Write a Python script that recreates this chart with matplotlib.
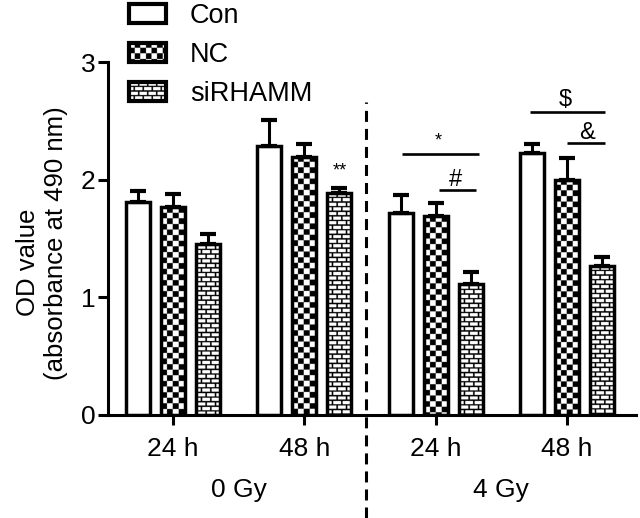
import numpy as np
import matplotlib
matplotlib.use('Agg')
import matplotlib.pyplot as plt
from matplotlib.patches import Rectangle
from matplotlib.transforms import blended_transform_factory

plt.rcParams['font.family'] = ['Liberation Sans', 'DejaVu Sans']

# ---------------- data ----------------
time_labels = ['24 h', '48 h', '24 h', '48 h']
dose_labels = ['0 Gy', '4 Gy']
series_names = ['Con', 'NC', 'siRHAMM']
con_mean = [1.81, 2.29, 1.72, 2.23]
con_err = [0.09, 0.22, 0.15, 0.075]
nc_mean = [1.765, 2.195, 1.69, 2.00]
nc_err = [0.11, 0.105, 0.11, 0.18]
si_mean = [1.45, 1.89, 1.11, 1.27]
si_err = [0.09, 0.035, 0.105, 0.07]

W, H = 640, 518
fig = plt.figure(figsize=(W / 100, H / 100), dpi=100)
ax_l, ax_r, ax_b, ax_t = 108, 636, 415, 62
ax = fig.add_axes([ax_l / W, 1 - ax_b / H, (ax_r - ax_l) / W, (ax_b - ax_t) / H])
XLIM = (-0.495, 3.525)
YLIM = (0, 3)
ax.set_xlim(*XLIM)
ax.set_ylim(*YLIM)
px_per_x = (ax_r - ax_l) / (XLIM[1] - XLIM[0])
px_per_y = (ax_b - ax_t) / (YLIM[1] - YLIM[0])


def pattern(kind, wpx, hpx, ss=4):
    nr, nc = max(int(round(hpx * ss)), 1), max(int(round(wpx * ss)), 1)
    r = np.arange(nr)[:, None] / ss
    c = np.arange(nc)[None, :] / ss
    if kind == 'checker':
        cell = 5.6
        arr = ((np.floor(r / cell) + np.floor(c / cell)) % 2).astype(float)
    elif kind == 'brick':
        rh, bw, t = 4.6, 9.0, 1.4
        row = np.floor(r / rh)
        hline = (r % rh) < t
        shift = (row % 2) * bw / 2
        vline = ((c + shift) % bw) < t
        arr = (hline | vline).astype(float)
    else:
        arr = np.zeros((nr, nc))
    return arr


LW = 2.2
bw = 0.183
offsets = [-0.267, 0.0, 0.267]
kinds = ['plain', 'checker', 'brick']
means = [con_mean, nc_mean, si_mean]
errs = [con_err, nc_err, si_err]
xs = np.arange(len(time_labels))

for k in range(3):
    xpos = xs + offsets[k]
    bars = ax.bar(xpos, means[k], width=bw, color='white', edgecolor='none', zorder=1)
    if kinds[k] != 'plain':
        for b in bars:
            x0, h = b.get_x(), b.get_height()
            arr = pattern(kinds[k], bw * px_per_x, h * px_per_y)
            im = ax.imshow(arr, extent=(x0, x0 + bw, 0, h), origin='upper', cmap='gray_r',
                           vmin=0, vmax=1, interpolation='antialiased', aspect='auto', zorder=2)
            im.set_clip_path(b)
    ax.errorbar(xpos, means[k], yerr=[np.zeros(len(xs)), errs[k]], fmt='none', ecolor='black',
                elinewidth=LW, capsize=6, capthick=3, zorder=2.5)
    ax.bar(xpos, means[k], width=bw, fill=False, edgecolor='black', linewidth=LW + 0.3, zorder=3)

ax.set_xlim(*XLIM)
ax.set_ylim(*YLIM)
ax.set_aspect('auto')

for s in ['top', 'right']:
    ax.spines[s].set_visible(False)
for s in ['left', 'bottom']:
    ax.spines[s].set_linewidth(LW)
ax.set_xticks(xs)
ax.set_xticklabels(time_labels)
ax.set_yticks([0, 1, 2, 3])
ax.tick_params(axis='both', length=7, width=LW, labelsize=19)
ax.tick_params(axis='x', pad=9)
ax.tick_params(axis='y', pad=2)

trans = blended_transform_factory(ax.transData, ax.transAxes)
ax.text(0.5, (ax_b - 490) / (ax_b - ax_t), dose_labels[0], transform=trans, ha='center',
        va='center', fontsize=19)
ax.text(2.5, (ax_b - 490) / (ax_b - ax_t), dose_labels[1], transform=trans, ha='center',
        va='center', fontsize=19)

# dashed separator
ax.plot([1.47, 1.47], [(ax_b - 518) / (ax_b - ax_t), (ax_b - 102) / (ax_b - ax_t)],
        transform=trans, clip_on=False, color='black', lw=LW, ls=(0, (3.6, 2.3)))

# significance marks
ax.text(1 + offsets[2], 2.07, '**', ha='center', va='center', fontsize=13)
sig_lines = [(2, -0.254, 0.327, 2.218), (2, 0.023, 0.305, 1.912),
             (3, -0.28, 0.29, 2.574), (3, 0.0, 0.29, 2.311)]
sig_texts = [(2, 0.023, 2.33, '*', 13), (2, 0.152, 2.0, '#', 17),
             (3, -0.015, 2.68, '$', 17), (3, 0.152, 2.40, '&', 17)]
for g, a, b_, y in sig_lines:
    ax.plot([g + a, g + b_], [y, y], color='black', lw=1.9, solid_capstyle='butt', zorder=4)
for g, dx, y, s, fs in sig_texts:
    ax.text(g + dx, y, s, ha='center', va='center', fontsize=fs)

# y label
fig.text(28 / W, 1 - 262 / H, 'OD value', rotation=90, ha='center', va='center', fontsize=18.5)
fig.text(56 / W, 1 - 243 / H, '(absorbance at 490 nm)', rotation=90, ha='center', va='center',
         fontsize=18.5)

# legend in pixel coords
lax = fig.add_axes([0, 0, 1, 1])
lax.set_xlim(0, W)
lax.set_ylim(H, 0)
lax.axis('off')
lax.patch.set_visible(False)
box_x0, box_w, box_h = 129, 37, 19
for k, yc in enumerate([13, 52, 91]):
    y0 = yc - box_h / 2
    rect = Rectangle((box_x0, y0), box_w, box_h, facecolor='white', edgecolor='none', zorder=1)
    lax.add_patch(rect)
    if kinds[k] != 'plain':
        arr = pattern(kinds[k], box_w, box_h)
        im = lax.imshow(arr, extent=(box_x0, box_x0 + box_w, y0 + box_h, y0), origin='upper',
                        cmap='gray_r', vmin=0, vmax=1, interpolation='antialiased',
                        aspect='auto', zorder=2)
        im.set_clip_path(rect)
    lax.add_patch(Rectangle((box_x0, y0), box_w, box_h, fill=False, edgecolor='black',
                            linewidth=LW + 0.8, zorder=3))
    lax.text(190, yc + 3, series_names[k], ha='left', va='center', fontsize=19.5)
lax.set_xlim(0, W)
lax.set_ylim(H, 0)

fig.savefig('out.png', dpi=100)
